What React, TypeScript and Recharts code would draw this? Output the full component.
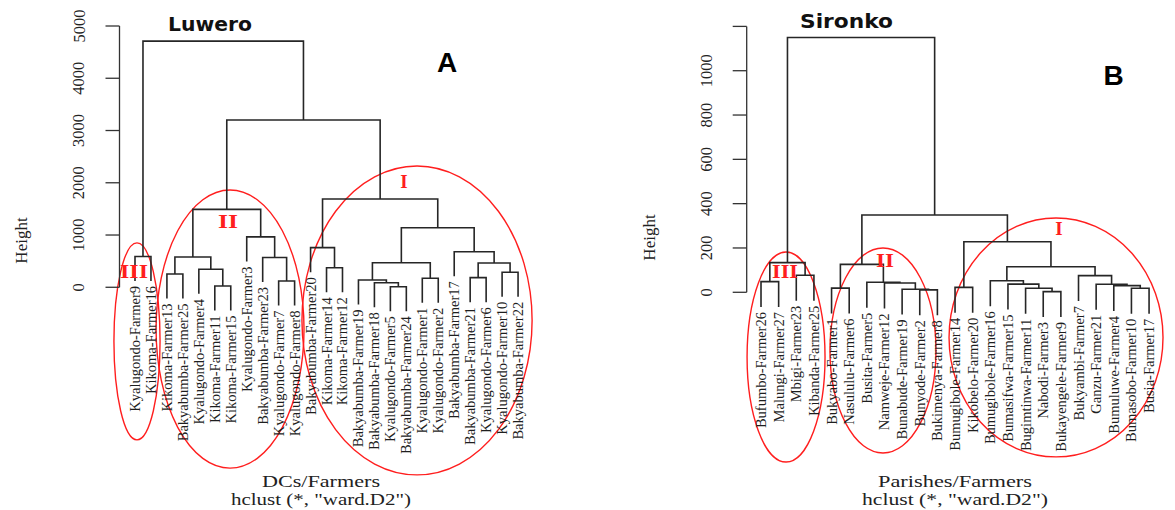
import React from 'react';
import { ComposedChart, Line, Scatter, XAxis, YAxis, ReferenceLine, ReferenceArea } from 'recharts';

// ---------------- Luwero (panel A) ----------------
const luweroLeaves = [
  'Kyalugondo-Farmer9', 'Kikoma-Farmer16', 'Kikoma-Farmer13', 'Bakyabumba-Farmer25', 'Kyalugondo-Farmer4',
  'Kikoma-Farmer11', 'Kikoma-Farmer15', 'Kyalugondo-Farmer3', 'Bakyabumba-Farmer23', 'Kyalugondo-Farmer7',
  'Kyalugondo-Farmer8', 'Bakyabumba-Farmer20', 'Kikoma-Farmer14', 'Kikoma-Farmer12', 'Bakyabumba-Farmer19',
  'Bakyabumba-Farmer18', 'Kyalugondo-Farmer5', 'Bakyabumba-Farmer24', 'Kyalugondo-Farmer1', 'Kyalugondo-Farmer2',
  'Bakyabumba-Farmer17', 'Bakyabumba-Farmer21', 'Kyalugondo-Farmer6', 'Kyalugondo-Farmer10', 'Bakyabumba-Farmer22',
];
// hclust-style merge matrix: negative = leaf position (1-based), positive = earlier merge (1-based)
const luweroMerges: [number, number][] = [
  [-17, -18], [-6, -7], [-16, 1], [-10, -11], [-15, 3], [-19, -20], [-22, -23], [-3, -4],
  [-24, -25], [-5, 2], [-13, -14], [7, 9], [5, 6], [-9, 4], [8, 10], [-1, -2],
  [-21, 12], [-12, 11], [-8, 14], [13, 17], [15, 19], [18, 20], [21, 22], [16, 23],
];
const luweroHeights = [
  10, 25, 88, 120, 140, 172, 184, 254, 287, 344, 375, 465, 470, 570, 580, 590,
  681, 758, 965, 1140, 1490, 1690, 3200, 4710,
];
const luweroTicks = [0, 1000, 2000, 3000, 4000, 5000];

// ---------------- Sironko (panel B) ----------------
const sironkoLeaves = [
  'Bufumbo-Farmer26', 'Malungi-Farmer27', 'Mbigi-Farmer23', 'Kibanda-Farmer25', 'Bukyabo-Farmer1',
  'Nasululu-Farmer6', 'Busita-Farmer5', 'Namweje-Farmer12', 'Bunabude-Farmer19', 'Bunyode-Farmer2',
  'Bukimenya-Farmer8', 'Bumugibole-Farmer14', 'Kikobelo-Farmer20', 'Bumugibole-Farmer16', 'Bumasifwa-Farmer15',
  'Bugimtinwa-Farmer11', 'Nabodi-Farmer3', 'Bukayengele-Farmer9', 'Bukyambi-Farmer7', 'Ganzu-Farmer21',
  'Bumuluwe-Farmer4', 'Bumasobo-Farmer10', 'Busia-Farmer17',
];
const sironkoMerges: [number, number][] = [
  [-17, -18], [-10, -11], [-9, 2], [-5, -6], [-16, 1], [-22, -23], [-12, -13], [-21, 6],
  [-20, 8], [-15, 5], [-8, 3], [-7, 11], [-1, -2], [-14, 10], [-19, 9], [-3, -4],
  [14, 15], [4, 12], [13, 16], [7, 17], [18, 20], [19, 21],
];
const sironkoHeights = [
  3, 11, 14, 19, 18, 18, 22, 30, 36, 37, 42, 45, 48, 52, 75, 77,
  115, 126, 134, 228, 349, 1150,
];
const sironkoTicks = [0, 200, 400, 600, 800, 1000, 1200];
const sironkoUnlabeledTicks = [1200];

// cluster ellipses (bounding boxes in leaf-index / height units)
const luweroClusters = [
  { x1: -1.32, x2: 1.57, y1: -2920, y2: 850 },
  { x1: 1.32, x2: 10.59, y1: -3460, y2: 1862 },
  { x1: 10.46, x2: 24.88, y1: -3590, y2: 2321 },
];
const sironkoClusters = [
  { x1: -0.79, x2: 3.63, y1: -766, y2: 182 },
  { x1: 3.91, x2: 9.92, y1: -725, y2: 200 },
  { x1: 10.66, x2: 22.79, y1: -743, y2: 335 },
];

const SERIF = "'Liberation Serif', 'DejaVu Serif', serif";
const SANS = "'DejaVu Sans', 'Liberation Sans', sans-serif";
const LINE = '#262626';
const RED = '#ff1e1e';

function buildTree(leaves: string[], merges: [number, number][], heights: number[]) {
  const hang = 0.1 * (Math.max(...heights) - Math.min(...heights));
  const mx: number[] = [];
  const leafBottom: number[] = leaves.map(() => 0);
  const links = merges.map(([a, b], k) => {
    const h = heights[k];
    const end = (c: number) => {
      if (c < 0) {
        const i = -c - 1;
        leafBottom[i] = h - hang;
        return { x: i, y: h - hang };
      }
      return { x: mx[c - 1], y: heights[c - 1] };
    };
    const A = end(a);
    const B = end(b);
    mx[k] = (A.x + B.x) / 2;
    return [
      { x: A.x, y: A.y },
      { x: A.x, y: h },
      { x: B.x, y: h },
      { x: B.x, y: B.y },
    ];
  });
  const leafPoints = leaves.map((name, i) => ({ x: i, y: leafBottom[i], name }));
  return { links, leafPoints };
}

const EllipseShape = (props: any) => {
  const { x, y, width, height } = props;
  return (
    <ellipse
      cx={x + width / 2}
      cy={y + height / 2}
      rx={Math.abs(width) / 2}
      ry={Math.abs(height) / 2}
      fill="none"
      stroke={RED}
      strokeWidth={1.4}
    />
  );
};

const LeafLabel = (props: any) => {
  const { cx, cy, payload } = props;
  const tx = cx + 5;
  const ty = cy + 5;
  return (
    <text
      x={tx}
      y={ty}
      transform={`rotate(-90 ${tx} ${ty})`}
      textAnchor="end"
      fontFamily={SERIF}
      fontSize={14.5}
      fill="#1e1e1e"
    >
      {payload.name}
    </text>
  );
};

type Cfg = {
  leaves: string[];
  merges: [number, number][];
  heights: number[];
  ticks: number[];
  unlabeled: number[];
  clusters: { x1: number; x2: number; y1: number; y2: number }[];
  width: number;
  margin: { top: number; right: number; bottom: number; left: number };
  yAxisWidth: number;
  xDomain: [number, number];
  yDomain: [number, number];
};

function Dendrogram({ cfg }: { cfg: Cfg }) {
  const { links, leafPoints } = buildTree(cfg.leaves, cfg.merges, cfg.heights);
  const x0 = cfg.xDomain[0];
  const renderTick = (p: any) => {
    const v = p.payload.value;
    if (cfg.unlabeled.includes(v)) return <g />;
    const bx = p.x - 19;
    return (
      <text
        x={bx}
        y={p.y}
        transform={`rotate(-90 ${bx} ${p.y})`}
        textAnchor="middle"
        fontFamily={SERIF}
        fontSize={16.5}
        fill="#222"
      >
        {v}
      </text>
    );
  };
  return (
    <ComposedChart width={cfg.width} height={510} margin={cfg.margin}>
      <XAxis type="number" dataKey="x" domain={cfg.xDomain} hide />
      <YAxis
        type="number"
        dataKey="y"
        domain={cfg.yDomain}
        ticks={cfg.ticks}
        interval={0}
        width={cfg.yAxisWidth}
        axisLine={false}
        tickLine={{ stroke: '#333', strokeWidth: 1.3 }}
        tickSize={14}
        tickMargin={2}
        tick={renderTick}
      />
      <ReferenceLine
        segment={[
          { x: x0, y: cfg.ticks[0] },
          { x: x0, y: cfg.ticks[cfg.ticks.length - 1] },
        ]}
        stroke="#333"
        strokeWidth={1.3}
        ifOverflow="visible"
      />
      {cfg.clusters.map((c, i) => (
        <ReferenceArea
          key={'c' + i}
          x1={c.x1}
          x2={c.x2}
          y1={c.y1}
          y2={c.y2}
          ifOverflow="visible"
          shape={EllipseShape}
        />
      ))}
      {links.map((pts, k) => (
        <Line
          key={'l' + k}
          data={pts}
          dataKey="y"
          type="linear"
          stroke={LINE}
          strokeWidth={1.6}
          dot={false}
          activeDot={false}
          legendType="none"
          isAnimationActive={false}
        />
      ))}
      <Scatter data={leafPoints} dataKey="y" shape={LeafLabel} isAnimationActive={false} />
    </ComposedChart>
  );
}

const luweroCfg: Cfg = {
  leaves: luweroLeaves,
  merges: luweroMerges,
  heights: luweroHeights,
  ticks: luweroTicks,
  unlabeled: [],
  clusters: luweroClusters,
  width: 590,
  margin: { top: 26, right: 48, bottom: 13.7, left: 0 },
  yAxisWidth: 119.5,
  xDomain: [-0.971, 25.5],
  yDomain: [-4000, 5000],
};

const sironkoCfg: Cfg = {
  leaves: sironkoLeaves,
  merges: sironkoMerges,
  heights: sironkoHeights,
  ticks: sironkoTicks,
  unlabeled: sironkoUnlabeledTicks,
  clusters: sironkoClusters,
  width: 585,
  margin: { top: 26.4, right: 3, bottom: 18.3, left: 0 },
  yAxisWidth: 156.7,
  xDomain: [-0.811, 23.3],
  yDomain: [-900, 1200],
};

export default function App() {
  return (
    <div style={{ position: 'absolute', left: 0, top: 0, width: 1175, height: 510, background: '#fff', overflow: 'hidden' }}>
      <div style={{ position: 'absolute', left: 0, top: 0 }}>
        <Dendrogram cfg={luweroCfg} />
      </div>
      <div style={{ position: 'absolute', left: 590, top: 0 }}>
        <Dendrogram cfg={sironkoCfg} />
      </div>
      <svg
        width={1175}
        height={510}
        style={{ position: 'absolute', left: 0, top: 0, pointerEvents: 'none' }}
      >
        {/* titles */}
        <text x={210} y={30.5} textAnchor="middle" fontFamily={SANS} fontWeight="bold" fontSize={20} textLength={84} lengthAdjust="spacingAndGlyphs" fill="#111">Luwero</text>
        <text x={846.5} y={27.5} textAnchor="middle" fontFamily={SANS} fontWeight="bold" fontSize={20} textLength={93} lengthAdjust="spacingAndGlyphs" fill="#111">Sironko</text>
        <text x={447} y={72} textAnchor="middle" fontFamily="'Liberation Sans', sans-serif" fontWeight="bold" fontSize={28} fill="#000">A</text>
        <text x={1113.5} y={85} textAnchor="middle" fontFamily="'Liberation Sans', sans-serif" fontWeight="bold" fontSize={28} fill="#000">B</text>
        {/* y labels */}
        <text x={27} y={240.5} transform="rotate(-90 27 240.5)" textAnchor="middle" fontFamily={SERIF} fontSize={17} fill="#222">Height</text>
        <text x={654.5} y={237.5} transform="rotate(-90 654.5 237.5)" textAnchor="middle" fontFamily={SERIF} fontSize={17} fill="#222">Height</text>
        {/* x labels */}
        <text x={321} y={487} textAnchor="middle" fontFamily={SERIF} fontSize={17} textLength={118} lengthAdjust="spacingAndGlyphs" fill="#222">DCs/Farmers</text>
        <text x={321} y={505} textAnchor="middle" fontFamily={SERIF} fontSize={17} textLength={180} lengthAdjust="spacingAndGlyphs" fill="#222">hclust (*, "ward.D2")</text>
        <text x={955} y={487} textAnchor="middle" fontFamily={SERIF} fontSize={17} textLength={154} lengthAdjust="spacingAndGlyphs" fill="#222">Parishes/Farmers</text>
        <text x={955} y={505} textAnchor="middle" fontFamily={SERIF} fontSize={17} textLength={186} lengthAdjust="spacingAndGlyphs" fill="#222">hclust (*, "ward.D2")</text>
        {/* cluster numerals */}
        <text x={134} y={278} textAnchor="middle" fontFamily={SERIF} fontWeight="bold" fontSize={19} textLength={28} lengthAdjust="spacingAndGlyphs" fill={RED}>III</text>
        <text x={228} y={228} textAnchor="middle" fontFamily={SERIF} fontWeight="bold" fontSize={19} textLength={20} lengthAdjust="spacingAndGlyphs" fill={RED}>II</text>
        <text x={404} y={187.5} textAnchor="middle" fontFamily={SERIF} fontWeight="bold" fontSize={19} fill={RED}>I</text>
        <text x={785} y={277.5} textAnchor="middle" fontFamily={SERIF} fontWeight="bold" fontSize={19} textLength={26} lengthAdjust="spacingAndGlyphs" fill={RED}>III</text>
        <text x={885} y={267} textAnchor="middle" fontFamily={SERIF} fontWeight="bold" fontSize={19} textLength={18} lengthAdjust="spacingAndGlyphs" fill={RED}>II</text>
        <text x={1059} y={234.5} textAnchor="middle" fontFamily={SERIF} fontWeight="bold" fontSize={19} fill={RED}>I</text>
      </svg>
    </div>
  );
}
